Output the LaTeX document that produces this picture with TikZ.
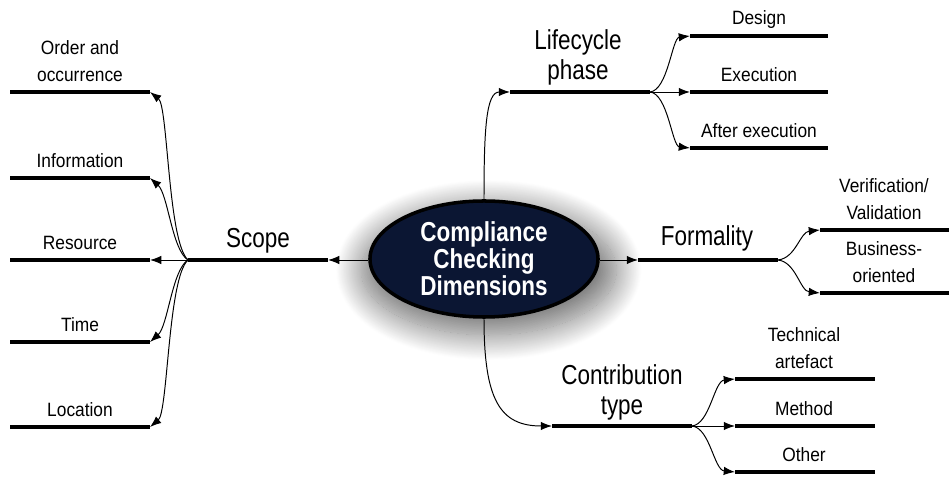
\documentclass[tikz,border=0pt]{standalone}
\usepackage{fontspec}
\setmainfont{Liberation Sans}[FakeStretch=0.9]
\newfontfamily\narrowsans{Liberation Sans}[FakeStretch=0.82]
\usetikzlibrary{arrows.meta,shapes.geometric,shadows.blur}
\definecolor{corenavy}{HTML}{0B1633}
\tikzset{
  bar/.style={line width=2.8pt},
  link/.style={line width=0.7pt,-{Latex[length=8pt,width=6pt]}},
  leaf/.style={font=\fontsize{13.7}{19}\selectfont,align=center,anchor=south,inner sep=0pt,text depth=0pt},
  dimlabel/.style={font=\narrowsans\fontsize{19.5}{21.3}\selectfont,align=center,anchor=south,inner sep=0pt,text depth=0pt},
}
\begin{document}
\begin{tikzpicture}[x=0.025cm,y=-0.025cm]
    \useasboundingbox (0,0) rectangle (949,477);
    \node[ellipse,draw,line width=2.5pt,fill=corenavy,text=white,inner sep=0pt,
          minimum width=5.7cm,minimum height=2.9cm,align=center,
          font=\narrowsans\bfseries\fontsize{19.5}{19.2}\selectfont,
          blur shadow={shadow xshift=3pt,shadow yshift=-7pt,shadow scale=1.12,
                       shadow blur radius=16pt,shadow blur steps=40,shadow opacity=55}]
          (core) at (484,259) {Compliance\\Checking\\Dimensions};
    % scope
    \coordinate (scopeR) at (328,260);
    \coordinate (scopeL) at (188,260);
    \draw[bar] (scopeL) -- (scopeR);
    \node[dimlabel] (scope) at (258,248) {Scope};
    \draw[link] (core.west |- scopeR) -- (scopeR);
    \coordinate (orderR) at (150,92);
    \coordinate (infoR) at (150,178);
    \coordinate (resR) at (150,260);
    \coordinate (timeR) at (150,342);
    \coordinate (locR) at (150,427);
    \draw[bar] (10,92) -- (orderR);
    \draw[bar] (10,178) -- (infoR);
    \draw[bar] (10,260) -- (resR);
    \draw[bar] (10,342) -- (timeR);
    \draw[bar] (10,427) -- (locR);
    \node[leaf] (order) at (80,82) {Order and\\occurrence};
    \node[leaf] (info) at (80,168) {Information};
    \node[leaf] (res) at (80,250) {Resource};
    \node[leaf] (time) at (80,332) {Time};
    \node[leaf] (loc) at (80,417) {Location};
    \draw[link] (scopeL) .. controls (168,242) and (168,106) .. (orderR);
    \draw[link] (scopeL) .. controls (172,250) and (168,194) .. (infoR);
    \draw[link] (scopeL) -- (resR);
    \draw[link] (scopeL) .. controls (172,270) and (168,326) .. (timeR);
    \draw[link] (scopeL) .. controls (168,278) and (168,412) .. (locR);
    % lifecycle phase
    \coordinate (lifeL) at (510,92);
    \coordinate (lifeR) at (650,92);
    \draw[bar] (lifeL) -- (lifeR);
    \node[dimlabel] (life) at (578,80) {Lifecycle\\phase};
    \draw[link] (core.north) .. controls (484,130) and (486,92) .. (lifeL);
    \coordinate (designL) at (690,36);
    \coordinate (execL) at (690,92);
    \coordinate (afterL) at (690,148);
    \draw[bar] (designL) -- (828,36);
    \draw[bar] (execL) -- (828,92);
    \draw[bar] (afterL) -- (828,148);
    \node[leaf] (design) at (759,25) {Design};
    \node[leaf] (exec) at (759,82) {Execution};
    \node[leaf] (after) at (759,138) {After execution};
    \draw[link] (lifeR) .. controls (668,90) and (672,38) .. (designL);
    \draw[link] (lifeR) -- (execL);
    \draw[link] (lifeR) .. controls (668,94) and (672,146) .. (afterL);
    % formality
    \coordinate (formL) at (638,260);
    \coordinate (formR) at (778,260);
    \draw[bar] (formL) -- (formR);
    \node[dimlabel] (form) at (707,246) {Formality};
    \draw[link] (core.east |- formL) -- (formL);
    \coordinate (verL) at (820,230);
    \coordinate (busL) at (820,293);
    \draw[bar] (verL) -- (949,230);
    \draw[bar] (busL) -- (949,293);
    \node[leaf] (ver) at (884,220) {Verification/\\Validation};
    \node[leaf] (bus) at (884,283) {Business-\\oriented};
    \draw[link] (formR) .. controls (796,258) and (800,232) .. (verL);
    \draw[link] (formR) .. controls (796,262) and (800,291) .. (busL);
    % contribution type
    \coordinate (contL) at (552,426);
    \coordinate (contR) at (692,426);
    \draw[bar] (contL) -- (contR);
    \node[dimlabel] (cont) at (622,415) {Contribution\\type};
    \draw[link] (core.south) .. controls (484,400) and (500,426) .. (contL);
    \coordinate (techL) at (735,379);
    \coordinate (methL) at (735,426);
    \coordinate (otherL) at (735,472);
    \draw[bar] (techL) -- (875,379);
    \draw[bar] (methL) -- (875,426);
    \draw[bar] (otherL) -- (875,472);
    \node[leaf] (tech) at (804,369) {Technical\\artefact};
    \node[leaf] (meth) at (804,416) {Method};
    \node[leaf] (other) at (804,462) {Other};
    \draw[link] (contR) .. controls (710,424) and (714,381) .. (techL);
    \draw[link] (contR) -- (methL);
    \draw[link] (contR) .. controls (710,428) and (714,470) .. (otherL);
\end{tikzpicture}
\end{document}
